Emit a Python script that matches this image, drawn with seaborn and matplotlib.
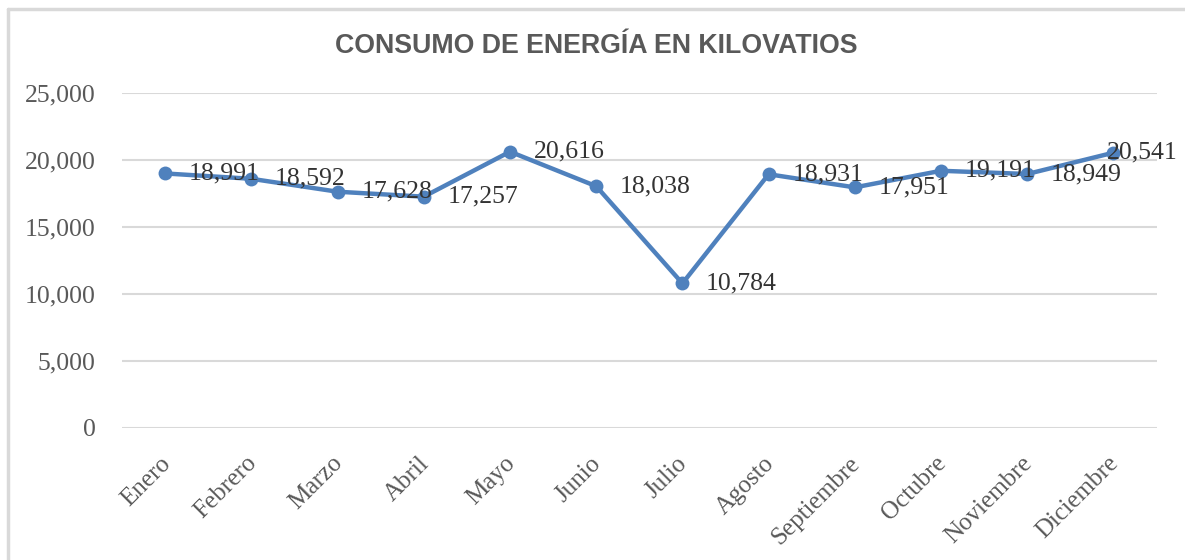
import pandas as pd
import matplotlib.pyplot as plt
import seaborn as sns
from matplotlib.ticker import FuncFormatter
from matplotlib.transforms import ScaledTranslation

# datos
meses = ['Enero', 'Febrero', 'Marzo', 'Abril', 'Mayo', 'Junio', 'Julio',
         'Agosto', 'Septiembre', 'Octubre', 'Noviembre', 'Diciembre']
consumo = [18991, 18592, 17628, 17257, 20616, 18038, 10784,
           18931, 17951, 19191, 18949, 20541]
y_ticks = [0, 5000, 10000, 15000, 20000, 25000]

df = pd.DataFrame({'Mes': meses, 'Consumo': consumo})

sns.set_style('white')
plt.rcParams['font.family'] = ['Liberation Serif', 'DejaVu Serif']

azul = '#4F81BD'
gris = '#595959'

fig = plt.figure(figsize=(11.85, 5.6), dpi=100)
ax = fig.add_axes([0.103, 0.236, 0.873, 0.598])

sns.lineplot(x='Mes', y='Consumo', data=df, ax=ax, color=azul, linewidth=3.2,
             marker='o', markersize=10, markeredgewidth=0, sort=False)

for i, v in enumerate(consumo):
    # la ultima etiqueta no cabe a la derecha, se monta sobre el punto
    dx = 17 if i < len(consumo) - 1 else -5
    ax.annotate(f'{v:,}', (i, v), xytext=(dx, 0), textcoords='offset points',
                ha='left', va='center', fontsize=18.5, color='#333333')

ax.set_xlim(-0.5, len(meses) - 0.5)
ax.set_ylim(0, 25000)
ax.set_yticks(y_ticks)
ax.yaxis.set_major_formatter(FuncFormatter(lambda v, p: f'{int(v):,}'))
ax.grid(axis='y', color='#D9D9D9', linewidth=1.5)
ax.set_axisbelow(True)
for s in ax.spines.values():
    s.set_visible(False)
ax.set_xlabel('')
ax.set_ylabel('')
ax.tick_params(axis='y', length=0, pad=19, labelsize=18.5, labelcolor=gris)
ax.tick_params(axis='x', length=0, pad=17.5, labelsize=18, labelcolor=gris)
desplaza = ScaledTranslation(-6 / 100, 0, fig.dpi_scale_trans)
for lab in ax.get_xticklabels():
    lab.set_rotation(45)
    lab.set_ha('right')
    lab.set_rotation_mode('anchor')
    lab.set_transform(lab.get_transform() + desplaza)

fig.text(0.503, 0.918, 'CONSUMO DE ENERGÍA EN KILOVATIOS', ha='center', va='center',
         fontsize=19.3, fontweight='bold', color=gris, family='Liberation Sans')

# borde del grafico
fig.add_artist(plt.Line2D([0.0065, 0.0065], [0, 0.984], color='#D9D9D9', lw=2.5,
                          transform=fig.transFigure))
fig.add_artist(plt.Line2D([0.0065, 1], [0.984, 0.984], color='#D9D9D9', lw=2.5,
                          transform=fig.transFigure))

fig.savefig('out.png', dpi=100)
